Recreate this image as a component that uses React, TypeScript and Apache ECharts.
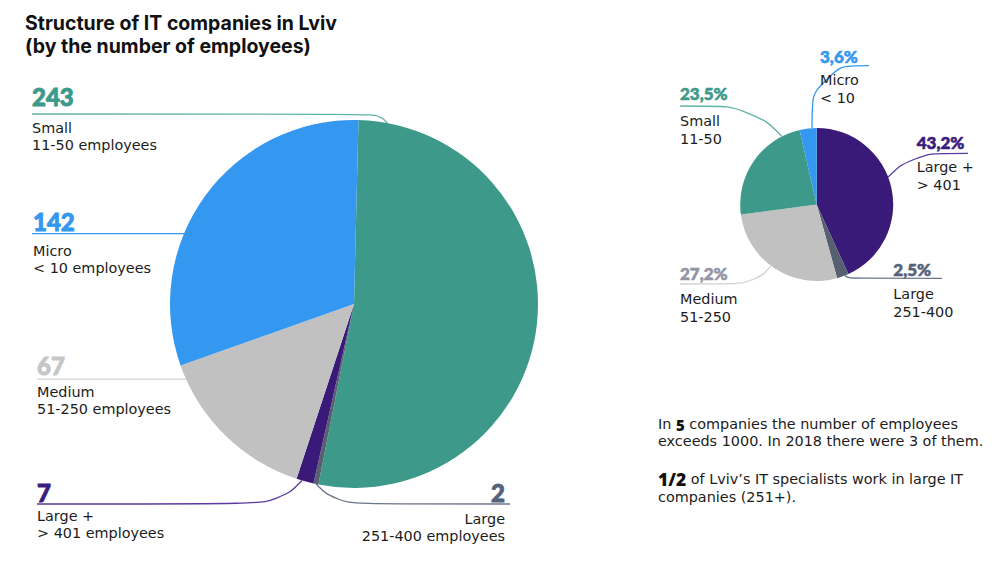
import React, { useEffect, useRef } from 'react';
import * as echarts from 'echarts';

// ---------- data ----------
const leftNames = ['Small', 'Large', 'Large +', 'Medium', 'Micro'];
const leftRanges = ['11-50 employees', '251-400 employees', '> 401 employees', '51-250 employees', '< 10 employees'];
const leftCounts = [243, 2, 7, 67, 142];

const rightNames = ['Large +', 'Large', 'Medium', 'Small', 'Micro'];
const rightRanges = ['> 401', '251-400', '51-250', '11-50', '< 10'];
const rightShares = [43.2, 2.5, 27.2, 23.5, 3.6];

const titleText = 'Structure of IT companies in Lviv\n(by the number of employees)';
const noteBig1 = '5';
const noteBig2 = '1/2';

// ---------- styles ----------
const FONT = "'DejaVu Sans', 'Open Sans', sans-serif";
const NUMFONT = "Lato, 'Open Sans', sans-serif";
const BOLDFONT = "'Open Sans', Lato, sans-serif";
const TITLEFONT = "Inter, 'Open Sans', sans-serif";
const TEXT = '#1c1c1c';

const sliceColors: Record<string, string> = {
  'Small': '#3d9a8a',
  'Micro': '#3598f0',
  'Medium': '#c1c1c1',
  'Large +': '#3a1a78',
  'Large': '#56606f',
};
const lineColors: Record<string, string> = {
  'Small': '#5fb3a4',
  'Micro': '#3598f0',
  'Medium': '#d2d2d2',
  'Large +': '#5a3aa0',
  'Large': '#6b7588',
};
const leftNumColors: Record<string, string> = {
  'Small': '#3d9a8a',
  'Micro': '#3598f0',
  'Medium': '#c6c6c6',
  'Large +': '#3b1c7c',
  'Large': '#56627a',
};
const rightNumColors: Record<string, string> = {
  'Small': '#3d9a8a',
  'Micro': '#3598f0',
  'Medium': '#9195a4',
  'Large +': '#3b1c7c',
  'Large': '#56627a',
};

// label placement (annotation layout, in px)
type LabelPos = {
  angle: number; bend: number[] | null; endX: number; tx: number;
  align: 'left' | 'right'; numTop: number; descTop: number;
};
const leftLayout: LabelPos[] = [
  { angle: 79.6, bend: [379, 114], endX: 32, tx: 32, align: 'left', numTop: 87, descTop: 122 },
  { angle: -101.9, bend: [336, 504], endX: 510, tx: 505, align: 'right', numTop: 483, descTop: 513 },
  { angle: -106.4, bend: [279, 504], endX: 37, tx: 37, align: 'left', numTop: 483, descTop: 510.7 },
  { angle: 204.1, bend: null, endX: 37, tx: 37, align: 'left', numTop: 355.7, descTop: 386.7 },
  { angle: 157.5, bend: null, endX: 32, tx: 33, align: 'left', numTop: 211.7, descTop: 245 },
];
const rightLayout: LabelPos[] = [
  { angle: 21, bend: [912, 153.3], endX: 968, tx: 916.7, align: 'left', numTop: 135.7, descTop: 161.7 },
  { angle: -68.4, bend: [849, 278.3], endX: 942, tx: 893.3, align: 'left', numTop: 263.3, descTop: 288 },
  { angle: -126.6, bend: [755, 284], endX: 680, tx: 680, align: 'left', numTop: 267.3, descTop: 293.3 },
  { angle: 117, bend: [752, 106], endX: 680, tx: 680, align: 'left', numTop: 87.3, descTop: 115 },
  { angle: 93.5, bend: [812, 65.7], endX: 869, tx: 820, align: 'left', numTop: 50, descTop: 74 },
];

// distance from a text line's top to the cap top of its glyphs
const descCapOffset = (fs: number, lh: number) => lh / 2 - 0.383 * fs;
const NUM_CAP = 0.39;

function makePie(
  id: string,
  names: string[],
  ranges: string[],
  values: number[],
  center: number[],
  radius: number,
  startAngle: number,
  layout: LabelPos[],
  numColors: Record<string, string>,
  fmt: (v: number) => string,
  numFs: number, numStroke: number, descFs: number, descLh: number,
) {
  const numLhs = layout.map((L) =>
    Math.max(numFs, 2 * (L.descTop - L.numTop - NUM_CAP * numFs - descCapOffset(descFs, descLh))),
  );
  const data = names.map((n, i) => ({
    name: n,
    value: values[i],
    itemStyle: { color: sliceColors[n] },
    labelLine: { lineStyle: { color: lineColors[n], width: 1.3 } },
    label: {
      formatter: `{num|${fmt(values[i])}}\n{desc|${n}}\n{desc|${ranges[i]}}`,
      rich: {
        num: {
          fontFamily: NUMFONT, fontSize: numFs, fontWeight: 900, lineHeight: numLhs[i],
          color: numColors[n], textBorderColor: numColors[n], textBorderWidth: numStroke,
        },
        desc: { fontFamily: FONT, fontSize: descFs, lineHeight: descLh, color: TEXT },
      },
    },
  }));
  return {
    type: 'pie',
    id,
    center,
    radius,
    startAngle,
    clockwise: true,
    silent: true,
    emphasis: { disabled: true },
    avoidLabelOverlap: false,
    itemStyle: { borderWidth: 0 },
    label: { show: true, position: 'outside' },
    labelLine: { show: true, smooth: 0.5, length: 10, length2: 10 },
    labelLayout: (p: any) => {
      const L = layout[p.dataIndex];
      const a = (L.angle * Math.PI) / 180;
      const p0 = [center[0] + radius * Math.cos(a), center[1] - radius * Math.sin(a)];
      const lineY = L.bend ? L.bend[1] : p0[1];
      const p1 = L.bend ? L.bend : [(p0[0] + L.endX) / 2, p0[1]];
      const p2 = [L.endX, lineY];
      return {
        x: L.tx,
        y: L.numTop - numLhs[p.dataIndex] / 2 + NUM_CAP * numFs,
        align: L.align,
        verticalAlign: 'top',
        labelLinePoints: [p0, p1, p2],
      };
    },
    data,
  };
}

export default function App() {
  const ref = useRef<HTMLDivElement>(null);
  useEffect(() => {
    if (!ref.current) return;
    const chart = echarts.init(ref.current, undefined, { renderer: 'svg' });
    const option: any = {
      animation: false,
      backgroundColor: '#ffffff',
      title: {
        text: titleText,
        left: 25,
        top: 11,
        padding: 0,
        textStyle: { fontFamily: TITLEFONT, fontSize: 19.5, fontWeight: 700, lineHeight: 23.6, color: '#111' },
      },
      series: [
        makePie('left', leftNames, leftRanges, leftCounts, [354, 304], 184, 88.6, leftLayout,
          leftNumColors, (v) => String(v), 24, 0.9, 14.4, 17),
        makePie('right', rightNames, rightRanges, rightShares, [816.7, 204.5], 76.5, 90, rightLayout,
          rightNumColors, (v) => v.toFixed(1).replace('.', ',') + '%', 17, 0.6, 14.4, 18),
      ],
      graphic: [
        {
          type: 'text',
          left: 658,
          top: 417,
          silent: true,
          style: {
            text: `{r|In }{b|${noteBig1}}{r| companies the number of employees}\n{r|exceeds 1000. In 2018 there were 3 of them.}`,
            rich: {
              r: { fontFamily: FONT, fontSize: 14.4, lineHeight: 16.8, fill: TEXT },
              b: { fontFamily: BOLDFONT, fontSize: 15, fontWeight: 800, lineHeight: 16.8, fill: '#111' },
            },
          },
        },
        {
          type: 'text',
          left: 658,
          top: 469.5,
          silent: true,
          style: {
            text: `{b|${noteBig2}}{r| of Lviv’s IT specialists work in large IT}\n{r|companies (251+).}`,
            rich: {
              r: { fontFamily: FONT, fontSize: 14.4, lineHeight: 18, fill: TEXT },
              b: { fontFamily: BOLDFONT, fontSize: 17.5, fontWeight: 800, lineHeight: 18, fill: '#111' },
            },
          },
        },
      ],
    };
    chart.setOption(option);
    return () => chart.dispose();
  }, []);
  return (
    <div
      ref={ref}
      style={{ position: 'fixed', left: 0, top: 0, width: 1008, height: 567, background: '#fff' }}
    />
  );
}
